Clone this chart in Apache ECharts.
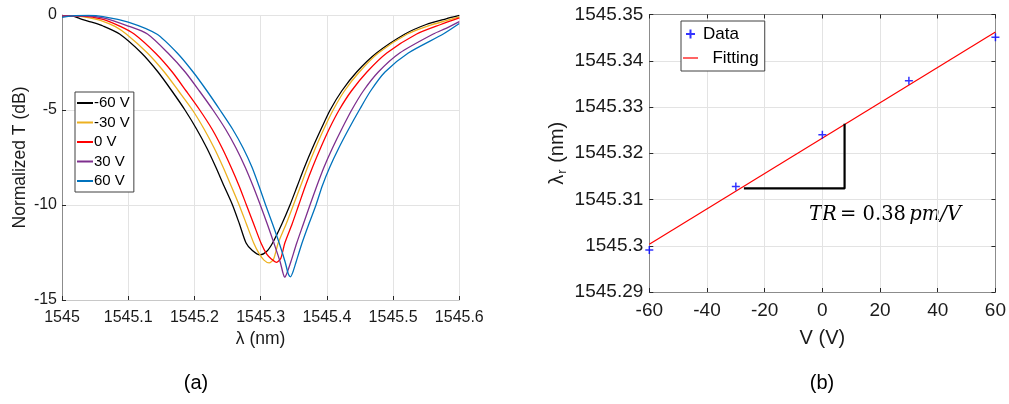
<!DOCTYPE html>
<html><head><meta charset="utf-8">
<script src="https://cdn.jsdelivr.net/npm/echarts@6/dist/echarts.min.js"></script>
<style>html,body{margin:0;padding:0;background:#fff}#c{width:1009px;height:404px}</style>
</head><body><div id="c"></div>
<script>
// ---- Panel (a): transmission spectra ----
const curveNames = ['-60 V', '-30 V', '0 V', '30 V', '60 V'];
const curveColors = ['#000000', '#EDB120', '#FF0000', '#7E2F8E', '#0072BD'];

const wlM60 = [1545.000,1545.015,1545.027,1545.045,1545.062,1545.087,1545.120,1545.145,1545.166,1545.1857,1545.2032,1545.2187,1545.2322,1545.2447,1545.2575,1545.268,1545.278,1545.2875,1545.2991,1545.309,1545.318,1545.332,1545.3443,1545.3553,1545.3663,1545.3783,1545.3913,1545.405,1545.4224,1545.445,1545.475,1545.518,1545.550,1545.580,1545.600];
const tM60  = [-0.05,-0.05,-0.19,-0.38,-0.58,-1,-2,-3,-4,-5,-6,-7,-8,-9,-10,-11,-12,-12.4,-12.63,-12.45,-12,-11,-10,-9,-8,-7,-6,-5,-4,-3,-2,-1,-0.5,-0.2,-0.02];

const wlM30 = [1545.000,1545.027,1545.045,1545.062,1545.080,1545.097,1545.129,1545.1545,1545.176,1545.197,1545.2145,1545.2298,1545.2432,1545.2555,1545.2675,1545.2785,1545.2895,1545.2975,1545.305,1545.3128,1545.3195,1545.3265,1545.3385,1545.3495,1545.3603,1545.371,1545.3828,1545.3955,1545.4095,1545.4265,1545.449,1545.4777,1545.5215,1545.555,1545.580,1545.600];
const tM30  = [-0.03,-0.07,-0.18,-0.33,-0.6,-1,-2,-3,-4,-5,-6,-7,-8,-9,-10,-11,-12,-12.55,-12.9,-13.05,-12.85,-12,-11,-10,-9,-8,-7,-6,-5,-4,-3,-2,-1,-0.55,-0.3,-0.1];

const wl0 = [1545.000,1545.030,1545.062,1545.088,1545.109,1545.141,1545.1665,1545.1875,1545.208,1545.2265,1545.2418,1545.2552,1545.2675,1545.2785,1545.2895,1545.3005,1545.3095,1545.3165,1545.324,1545.3305,1545.3365,1545.3475,1545.3575,1545.3675,1545.3785,1545.3905,1545.4035,1545.4185,1545.437,1545.4605,1545.4905,1545.5356,1545.572,1545.600];
const t0  = [-0.05,-0.06,-0.23,-0.6,-1,-2,-3,-4,-5,-6,-7,-8,-9,-10,-11,-12,-12.6,-12.85,-13.02,-12.8,-12,-11,-10,-9,-8,-7,-6,-5,-4,-3,-2,-1,-0.5,-0.15];

const wlP30 = [1545.000,1545.030,1545.062,1545.100,1545.129,1545.160,1545.186,1545.2075,1545.228,1545.2468,1545.2628,1545.2765,1545.2885,1545.2995,1545.310,1545.320,1545.3295,1545.3335,1545.3362,1545.3395,1545.3455,1545.3545,1545.3645,1545.3745,1545.3848,1545.3958,1545.4085,1545.4225,1545.4375,1545.455,1545.4777,1545.510,1545.5607,1545.580,1545.600];
const tP30  = [-0.05,-0.04,-0.15,-0.58,-1,-2,-3,-4,-5,-6,-7,-8,-9,-10,-11,-12,-13,-13.55,-13.8,-13.6,-13,-12,-11,-10,-9,-8,-7,-6,-5,-4,-3,-2,-1,-0.7,-0.35];

const wlP60 = [1545.000,1545.020,1545.040,1545.062,1545.100,1545.143,1545.174,1545.198,1545.219,1545.2386,1545.2575,1545.2735,1545.2868,1545.2975,1545.3075,1545.318,1545.328,1545.337,1545.3415,1545.3451,1545.349,1545.3535,1545.3625,1545.3728,1545.3836,1545.393,1545.4045,1545.418,1545.433,1545.449,1545.466,1545.4878,1545.523,1545.5758,1545.600];
const tP60  = [-0.12,-0.03,-0.02,-0.08,-0.37,-1,-2,-3,-4,-5,-6,-7,-8,-9,-10,-11,-12,-13,-13.6,-13.78,-13.5,-13,-12,-11,-10,-9,-8,-7,-6,-5,-4,-3,-2,-1,-0.45];

// ---- Panel (b): resonance vs voltage ----
const biasV = [-60, -30, 0, 30, 60];
const resonance = [1545.2991, 1545.3128, 1545.3240, 1545.3357, 1545.3451];
const fitV = [-60, 60];
const fitRes = [1545.3003, 1545.3462];
const triV = [-27.2, 7.7, 7.7];
const triRes = [1545.3124, 1545.3124, 1545.3264];

const zip = (a, b) => a.map((v, i) => [v, b[i]]);
const curves = [[wlM60, tM60], [wlM30, tM30], [wl0, t0], [wlP30, tP30], [wlP60, tP60]];

const FONT = '"Liberation Sans", Arial, sans-serif';
const SERIF = '"DejaVu Serif", "Liberation Serif", serif';
const axisCol = '#8c8c8c';
const lightAxis = '#c8c8c8';
const tickCol = '#262626';
const txtCol = '#1a1a1a';
const gridCol = '#e3e3e3';

const chart = echarts.init(document.getElementById('c'), null, {renderer: 'canvas'});
const plusPath = 'path://M0,5 L10,5 M5,0 L5,10';
const tick = {show: true, inside: true, length: 4, lineStyle: {color: tickCol, width: 1}};

const option = {
  animation: false,
  backgroundColor: '#fff',
  textStyle: {fontFamily: FONT},
  grid: [
    {left: 62, top: 15, right: 549.7, bottom: 104},
    {left: 649.3, top: 14.5, right: 11.5, bottom: 112}
  ],
  legend: [
    {
      data: curveNames, orient: 'vertical', left: 75, top: 92,
      itemWidth: 16, itemHeight: 2, itemGap: 3.5, icon: 'rect',
      padding: [3, 4, 3, 2], borderColor: '#404040', borderWidth: 1, backgroundColor: '#fff',
      textStyle: {fontSize: 15, color: '#000', fontFamily: FONT, lineHeight: 16, padding: [0, 0, 0, -4]}
    },
    {
      data: [{name: 'Data'}, {name: 'Fitting', icon: 'path://M0,0 L16,0 L16,1.3 L0,1.3 Z'}],
      orient: 'vertical', left: 681, top: 21,
      itemWidth: 15, itemHeight: 9, itemGap: 2, symbolKeepAspect: true,
      padding: [2, 6, 2, 2], borderColor: '#404040', borderWidth: 1, backgroundColor: '#fff',
      formatter: n => n === 'Fitting' ? '  Fitting' : n,
      textStyle: {fontSize: 17, color: '#000', fontFamily: FONT, lineHeight: 22}
    }
  ],
  xAxis: [
    {
      gridIndex: 0, type: 'value', min: 1545, max: 1545.6, interval: 0.1,
      name: 'λ (nm)', nameLocation: 'middle', nameGap: 29,
      nameTextStyle: {fontSize: 17.5, color: txtCol, fontFamily: FONT},
      axisLine: {show: true, onZero: false, lineStyle: {color: lightAxis, width: 1}},
      axisTick: tick,
      axisLabel: {fontSize: 16, color: txtCol, margin: 9.5, fontFamily: FONT,
        formatter: v => String(Math.round(v * 10) / 10)},
      splitLine: {show: true, lineStyle: {color: gridCol, width: 1}}
    },
    {
      gridIndex: 1, type: 'value', min: -60, max: 60, interval: 20,
      name: 'V (V)', nameLocation: 'middle', nameGap: 36,
      nameTextStyle: {fontSize: 20, color: txtCol, fontFamily: FONT},
      axisLine: {show: true, onZero: false, lineStyle: {color: axisCol, width: 1}},
      axisTick: tick,
      axisLabel: {fontSize: 19, color: txtCol, margin: 9, fontFamily: FONT},
      splitLine: {show: true, lineStyle: {color: gridCol, width: 1}}
    },
    {
      gridIndex: 1, type: 'value', min: -60, max: 60, interval: 20, position: 'top',
      axisLine: {show: true, onZero: false, lineStyle: {color: axisCol, width: 1}},
      axisTick: tick, axisLabel: {show: false}, splitLine: {show: false}
    }
  ],
  yAxis: [
    {
      gridIndex: 0, type: 'value', min: -15, max: 0, interval: 5,
      name: 'Normalized T (dB)', nameLocation: 'middle', nameGap: 33, nameRotate: 90,
      nameTextStyle: {fontSize: 17.5, color: txtCol, fontFamily: FONT},
      axisLine: {show: true, onZero: false, lineStyle: {color: axisCol, width: 1}},
      axisTick: tick,
      axisLabel: {fontSize: 16, color: txtCol, margin: 5, fontFamily: FONT},
      splitLine: {show: true, lineStyle: {color: gridCol, width: 1}}
    },
    {
      gridIndex: 1, type: 'value', min: 1545.29, max: 1545.35, interval: 0.01,
      name: '{a|λ}{s|r}{a| (nm)}', nameLocation: 'middle', nameGap: 80, nameRotate: 90,
      nameTextStyle: {
        color: txtCol, fontFamily: FONT, fontSize: 20,
        rich: {
          a: {fontSize: 20, color: txtCol, fontFamily: FONT},
          s: {fontSize: 13, color: txtCol, fontFamily: FONT, verticalAlign: 'bottom', padding: [10, 1, 0, 1]}
        }
      },
      axisLine: {show: true, onZero: false, lineStyle: {color: axisCol, width: 1}},
      axisTick: tick,
      axisLabel: {fontSize: 19, color: txtCol, margin: 6, fontFamily: FONT,
        formatter: v => String(parseFloat(v.toFixed(2)))},
      splitLine: {show: true, lineStyle: {color: gridCol, width: 1}}
    },
    {
      gridIndex: 1, type: 'value', min: 1545.29, max: 1545.35, interval: 0.01, position: 'right',
      axisLine: {show: true, onZero: false, lineStyle: {color: axisCol, width: 1}},
      axisTick: tick, axisLabel: {show: false}, splitLine: {show: false}
    }
  ],
  series: [
    ...curves.map((c, i) => ({
      name: curveNames[i], type: 'line', xAxisIndex: 0, yAxisIndex: 0,
      data: zip(c[0], c[1]), symbol: 'none', smooth: 0.25,
      lineStyle: {color: curveColors[i], width: 1.3}, itemStyle: {color: curveColors[i]},
      z: 3 + i
    })),
    {
      name: 'Fitting', type: 'line', xAxisIndex: 1, yAxisIndex: 1,
      data: zip(fitV, fitRes), symbol: 'none',
      lineStyle: {color: '#FF0000', width: 1.2}, itemStyle: {color: '#FF0000'}, z: 4
    },
    {
      name: 'Data', type: 'scatter', xAxisIndex: 1, yAxisIndex: 1,
      data: zip(biasV, resonance), symbol: plusPath, symbolSize: 8,
      itemStyle: {color: 'rgba(0,0,0,0)', borderColor: '#0000FF', borderWidth: 1.5}, z: 6
    },
    {
      name: 'slope', type: 'line', xAxisIndex: 1, yAxisIndex: 1,
      data: zip(triV, triRes), symbol: 'none',
      lineStyle: {color: '#000', width: 2.2}, z: 5
    }
  ],
  graphic: [
    {type: 'text', x: 196, y: 383, style: {text: '(a)', font: '20px "Liberation Sans", Arial', fill: '#000', align: 'center', verticalAlign: 'middle'}},
    {type: 'text', x: 822, y: 383, style: {text: '(b)', font: '20px "Liberation Sans", Arial', fill: '#000', align: 'center', verticalAlign: 'middle'}},
    {type: 'text', x: 885, y: 215, style: {
      text: '{i|TR} {n|= 0.38} {i|pm/V}', align: 'center', verticalAlign: 'middle',
      rich: {
        i: {fontFamily: SERIF, fontStyle: 'italic', fontSize: 19.5, fill: '#000'},
        n: {fontFamily: SERIF, fontSize: 19.5, fill: '#000'}
      }
    }}
  ]
};
chart.setOption(option);
</script>
</body></html>
